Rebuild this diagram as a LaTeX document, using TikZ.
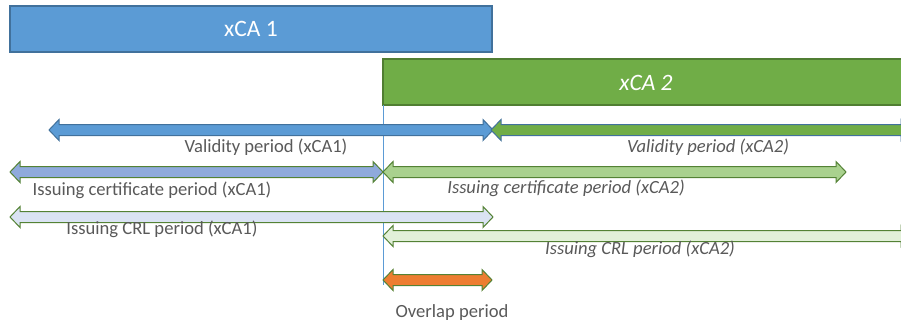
\documentclass[tikz,border=0pt]{standalone}
\usepackage{fontspec}
\setmainfont{Carlito}
\definecolor{blueF}{HTML}{5B9BD5}
\definecolor{blueD}{HTML}{41719C}
\definecolor{greenF}{HTML}{70AD47}
\definecolor{greenD}{HTML}{507E32}
\definecolor{lgreenD}{HTML}{548235}
\definecolor{certA}{HTML}{8FAADC}
\definecolor{certB}{HTML}{A9D18E}
\definecolor{crlA}{HTML}{DAE3F3}
\definecolor{crlB}{HTML}{E2F0D9}
\definecolor{orangeF}{HTML}{ED7D31}
\definecolor{txt}{HTML}{595959}
\newcommand\periodarrow[4]{%
  \draw[#4] (#1,#3) -- (#1+10,#3-10.5) -- (#1+10,#3-5.5) -- (#2-10,#3-5.5) -- (#2-10,#3-10.5) -- (#2,#3)
    -- (#2-10,#3+10.5) -- (#2-10,#3+5.5) -- (#1+10,#3+5.5) -- (#1+10,#3+10.5) -- cycle;}
\tikzset{
  label/.style={text=txt, font=\fontsize{18.6}{21}\selectfont, inner sep=0pt, anchor=center},
  ilabel/.style={label, font=\fontsize{18.6}{21}\selectfont\itshape},
  title/.style={text=white, font=\fontsize{23.5}{27}\selectfont, inner sep=0pt},
  arr/.style={line width=1pt, line join=miter},
}
\begin{document}
\begin{tikzpicture}[x=1pt,y=-1pt]
\useasboundingbox (0,0) rectangle (901,327);
\clip (0,0) rectangle (901,327);
% CA boxes
\draw[fill=blueF, draw=blueD, line width=1.2pt] (10,6) rectangle (492,52);
\node[title] (ca1) at (251,29) {xCA 1};
\draw[fill=greenF, draw=greenD, line width=1.2pt] (383,59) rectangle (920,105);
\node[title, font=\fontsize{23.5}{27}\selectfont\itshape] (ca2) at (646,83) {xCA 2};
% vertical reference line
\coordinate (vtop) at (383,105);
\coordinate (vbot) at (383,285);
\draw[blueF, line width=1pt] (vtop) -- (vbot);
% validity
\periodarrow{49}{493}{130}{arr, fill=blueF, draw=blueD}
\periodarrow{491}{911}{130}{arr, fill=greenF, draw=blueD}
\node[label] (v1) at (266,147.5) {Validity period (xCA1)};
\node[ilabel] (v2) at (708,147.5) {Validity period (xCA2)};
% issuing certificate
\periodarrow{10}{383}{172}{arr, fill=certA, draw=lgreenD}
\periodarrow{383}{846}{172}{arr, fill=certB, draw=lgreenD}
\node[label] (c1) at (152,190) {Issuing certificate period (xCA1)};
\node[ilabel] (c2) at (566,188.5) {Issuing certificate period (xCA2)};
% issuing CRL
\periodarrow{10}{493}{217}{arr, fill=crlA, draw=lgreenD}
\periodarrow{383}{911}{236}{arr, fill=crlB, draw=lgreenD}
\node[label] (r1) at (162,229) {Issuing CRL period (xCA1)};
\node[ilabel] (r2) at (640,249) {Issuing CRL period (xCA2)};
% overlap
\periodarrow{383}{492}{280}{arr, fill=orangeF, draw=lgreenD}
\node[label] (ov) at (452,313) {Overlap period};
\end{tikzpicture}
\end{document}
